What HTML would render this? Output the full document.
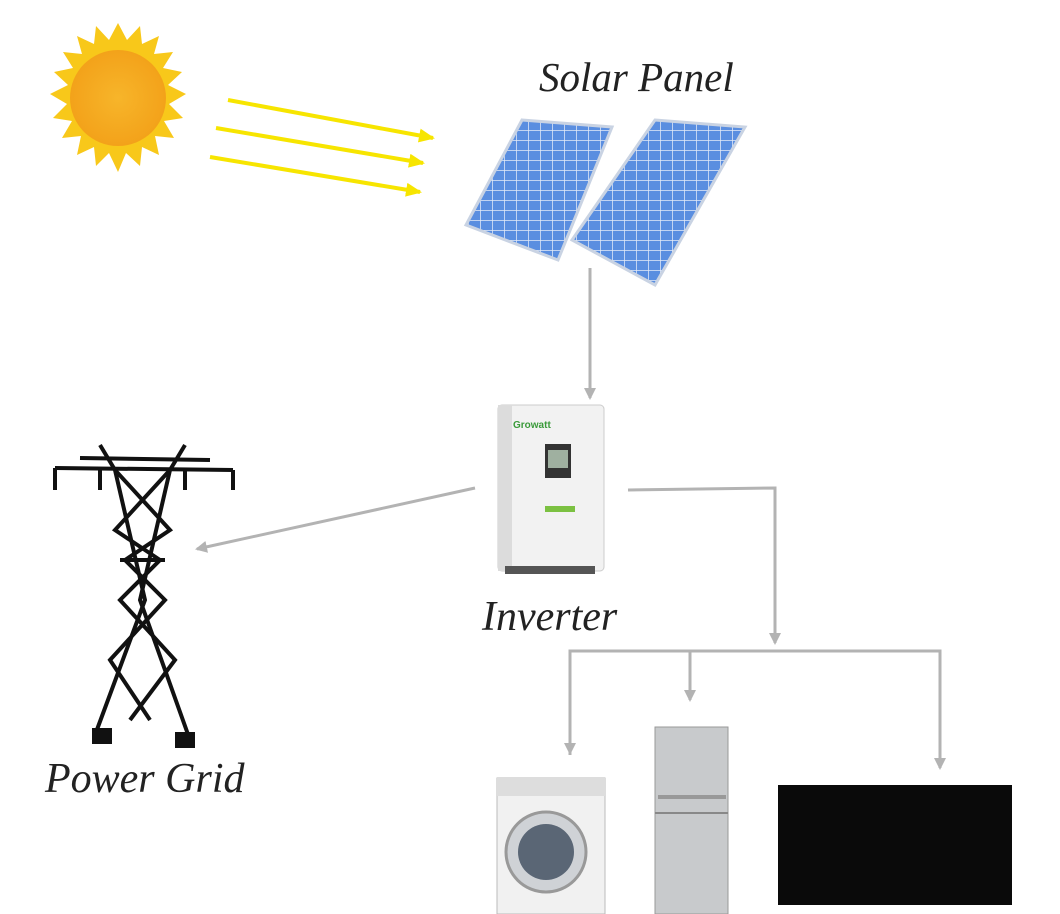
<!DOCTYPE html>
<html><head><meta charset="utf-8"><style>
html,body{margin:0;padding:0;background:#fff;}
body{width:1060px;height:914px;overflow:hidden;position:relative;}
.t{position:absolute;font-family:"Liberation Serif",serif;font-style:italic;color:#222;white-space:nowrap;}
</style></head><body>
<svg width="1060" height="914" style="position:absolute;left:0;top:0">
<defs>
<radialGradient id="sg" cx="50%" cy="50%" r="50%"><stop offset="0" stop-color="#f7b52a"/><stop offset="1" stop-color="#f3a21a"/></radialGradient>
<marker id="ag" markerWidth="12" markerHeight="12" refX="10" refY="6" orient="auto" markerUnits="userSpaceOnUse"><path d="M0,0 L12,6 L0,12 z" fill="#b3b3b3"/></marker>
<marker id="ay" markerWidth="16" markerHeight="14" refX="14" refY="7" orient="auto" markerUnits="userSpaceOnUse"><path d="M0,0 L16,7 L0,14 z" fill="#f7e500"/></marker>
<pattern id="grid" width="12" height="10" patternUnits="userSpaceOnUse"><rect width="12" height="10" fill="#5a8ee0"/><path d="M0,0H12M0,0V10" stroke="#e4ecf8" stroke-width="1.5"/></pattern>
</defs>
<g transform="translate(118,98)">
<polygon fill="#f8c81a" points="
0,-75 9,-58 22,-72 24,-54 41,-62 36,-44 55,-46 45,-30 64,-26 50,-13 68,-4 51,6 65,20 46,23 56,40 37,38 41,57 24,49 22,68 8,55 0,74 -9,55 -22,68 -24,49 -41,57 -37,38 -56,40 -46,23 -65,20 -51,6 -68,-4 -50,-13 -64,-26 -45,-30 -55,-46 -36,-44 -41,-62 -24,-54 -22,-72 -9,-58"/>
<circle r="48" fill="url(#sg)"/>
</g>
<g stroke="#f7e500" stroke-width="4" fill="none">
<line x1="228" y1="100" x2="433" y2="138" marker-end="url(#ay)"/>
<line x1="216" y1="128" x2="423" y2="163" marker-end="url(#ay)"/>
<line x1="210" y1="157" x2="420" y2="192" marker-end="url(#ay)"/>
</g>
<polygon points="522,120 612,127 558,260 466,225" fill="url(#grid)" stroke="#c9d3e3" stroke-width="3"/>
<polygon points="655,120 745,127 655,285 572,240" fill="url(#grid)" stroke="#c9d3e3" stroke-width="3"/>
<g stroke="#b3b3b3" stroke-width="3" fill="none">
<line x1="590" y1="268" x2="590" y2="398" marker-end="url(#ag)"/>
<line x1="475" y1="488" x2="197" y2="549" marker-end="url(#ag)"/>
<polyline points="628,490 775,488 775,643" marker-end="url(#ag)"/>
<polyline points="570,755 570,651 940,651 940,768" marker-end="url(#ag)"/>
<line x1="570" y1="651" x2="570" y2="753" marker-end="url(#ag)"/>
<line x1="690" y1="651" x2="690" y2="700" marker-end="url(#ag)"/>
</g>
<rect x="498" y="405" width="106" height="166" rx="4" fill="#f2f2f2" stroke="#ccc"/>
<rect x="498" y="405" width="14" height="166" fill="#dcdcdc"/>
<rect x="545" y="444" width="26" height="34" fill="#333"/>
<rect x="548" y="450" width="20" height="18" fill="#9fb0a0"/>
<text x="513" y="428" font-family="Liberation Sans" font-size="10" font-weight="bold" fill="#3a9a3a">Growatt</text>
<rect x="545" y="506" width="30" height="6" fill="#7cc142"/>
<rect x="505" y="566" width="90" height="8" fill="#555"/>
<g stroke="#111" stroke-width="4" fill="none">
<line x1="55" y1="468" x2="233" y2="470"/>
<line x1="80" y1="458" x2="210" y2="460"/>
<polyline points="100,445 115,470 145,600 95,735"/>
<polyline points="185,445 170,470 140,600 190,740"/>
<polyline points="115,470 170,530 125,560 165,600 110,660 150,720"/>
<polyline points="170,470 115,530 160,560 120,600 175,660 130,720"/>
<line x1="120" y1="560" x2="165" y2="560"/>
<line x1="100" y1="468" x2="100" y2="490"/><line x1="185" y1="468" x2="185" y2="490"/>
<line x1="55" y1="468" x2="55" y2="490"/><line x1="233" y1="470" x2="233" y2="490"/>
</g>
<rect x="92" y="728" width="20" height="16" fill="#111"/><rect x="175" y="732" width="20" height="16" fill="#111"/>
<rect x="497" y="778" width="108" height="136" fill="#f1f1f1" stroke="#bbb"/>
<rect x="497" y="778" width="108" height="18" fill="#ddd"/>
<circle cx="546" cy="852" r="40" fill="#cfd2d6" stroke="#999" stroke-width="3"/>
<circle cx="546" cy="852" r="28" fill="#5a6675"/>
<rect x="655" y="727" width="73" height="187" fill="#c8cacc" stroke="#999"/>
<line x1="655" y1="813" x2="728" y2="813" stroke="#888" stroke-width="2"/>
<rect x="658" y="795" width="68" height="4" fill="#999"/>
<rect x="778" y="785" width="234" height="120" fill="#0a0a0a"/>
</svg>
<div class="t" style="left:539px;top:53px;font-size:41px;">Solar Panel</div>
<div class="t" style="left:482px;top:593px;font-size:42px;">Inverter</div>
<div class="t" style="left:45px;top:755px;font-size:42px;">Power Grid</div>
</body></html>
